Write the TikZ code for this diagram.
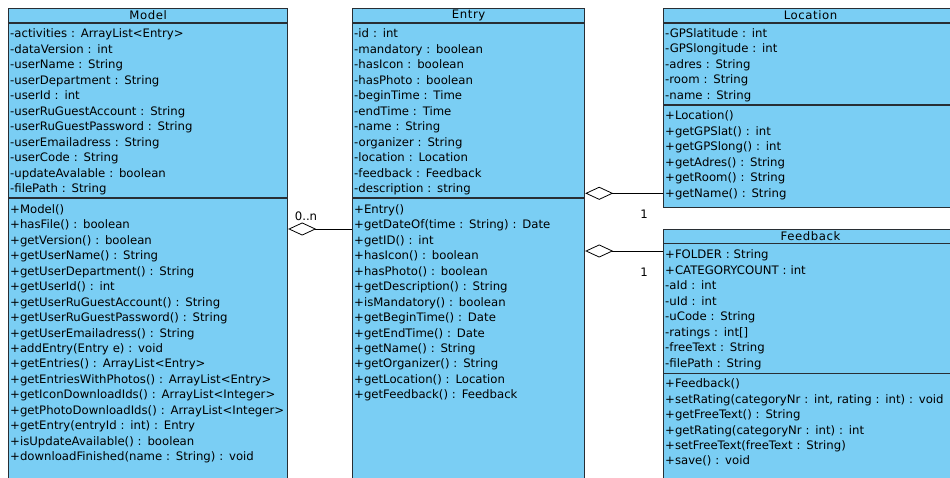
\documentclass[tikz,border=0pt]{standalone}
\usepackage{fontspec}
\setmainfont{DejaVu Sans}
\usetikzlibrary{arrows.meta, positioning, calc}

\definecolor{classblue}{RGB}{122,206,244}
\definecolor{classline}{RGB}{40,46,52}

\begin{document}
\begin{tikzpicture}[
    x=1pt, y=-1pt,
    classbox/.style={
        draw=classline,
        fill=classblue,
        line width=1.2pt,
        anchor=north west,
        inner sep=0pt,
    },
    classname/.style={
        font=\fontsize{11.7}{13}\selectfont\addfontfeatures{LetterSpace=5},
        inner sep=0pt,
    },
    members/.style={
        font=\fontsize{11.7}{15.45}\selectfont,
        anchor=base west,
        inner sep=0pt,
        text width=320pt,
        align=left,
    },
    divider/.style={
        draw=classline,
        line width=1.2pt,
    },
    aggregation/.style={
        {Diamond[open, length=28pt, width=13pt]}-,
        line width=0.8pt,
    },
    mult/.style={
        font=\fontsize{11.7}{13}\selectfont,
        inner sep=0pt,
    }
]
    \useasboundingbox (0,0) rectangle (950,478);
    \clip (0,0) rectangle (950,478);

    % Class boxes
    \node[classbox, minimum width=279pt, minimum height=520pt] (model) at (8,8) {};
    \node[classbox, minimum width=232pt, minimum height=520pt] (entry) at (352,8) {};
    \node[classbox, minimum width=294pt, minimum height=199pt] (location) at (663,8) {};
    \node[classbox, minimum width=294pt, minimum height=300pt] (feedback) at (663,229) {};

    % Compartment lines
    \draw[divider] ([yshift=-15pt]model.north west) -- ([yshift=-15pt]model.north east);
    \draw[divider] ([yshift=-190pt]model.north west) -- ([yshift=-190pt]model.north east);
    \draw[divider] ([yshift=-15pt]entry.north west) -- ([yshift=-15pt]entry.north east);
    \draw[divider] ([yshift=-190pt]entry.north west) -- ([yshift=-190pt]entry.north east);
    \draw[divider] ([yshift=-15pt]location.north west) -- ([yshift=-15pt]location.north east);
    \draw[divider] ([yshift=-97pt]location.north west) -- ([yshift=-97pt]location.north east);
    \draw[divider] ([yshift=-14.5pt]feedback.north west) -- ([yshift=-14.5pt]feedback.north east);
    \draw[divider] ([yshift=-144.5pt]feedback.north west) -- ([yshift=-144.5pt]feedback.north east);

    % Class names
    \node[classname] (model-name) at ($(model.north)+(0,7.5)$) {Model};
    \node[classname] (entry-name) at ($(entry.north)+(0,7.5)$) {Entry};
    \node[classname] (location-name) at ($(location.north)+(0,7.5)$) {Location};
    \node[classname] (feedback-name) at ($(feedback.north)+(0,7.5)$) {Feedback};

    % Model
    \node[members] (model-attr) at (10,38) {-activities : ArrayList<Entry>\\
        -dataVersion : int\\
        -userName : String\\
        -userDepartment : String\\
        -userId : int\\
        -userRuGuestAccount : String\\
        -userRuGuestPassword : String\\
        -userEmailadress : String\\
        -userCode : String\\
        -updateAvalable : boolean\\
        -filePath : String};
    \node[members] (model-ops) at (10,213.5) {+Model()\\
        +hasFile() : boolean\\
        +getVersion() : boolean\\
        +getUserName() : String\\
        +getUserDepartment() : String\\
        +getUserId() : int\\
        +getUserRuGuestAccount() : String\\
        +getUserRuGuestPassword() : String\\
        +getUserEmailadress() : String\\
        +addEntry(Entry e) : void\\
        +getEntries() : ArrayList<Entry>\\
        +getEntriesWithPhotos() : ArrayList<Entry>\\
        +getIconDownloadIds() : ArrayList<Integer>\\
        +getPhotoDownloadIds() : ArrayList<Integer>\\
        +getEntry(entryId : int) : Entry\\
        +isUpdateAvailable() : boolean\\
        +downloadFinished(name : String) : void};

    % Entry
    \node[members] (entry-attr) at (354,38) {-id : int\\
        -mandatory : boolean\\
        -hasIcon : boolean\\
        -hasPhoto : boolean\\
        -beginTime : Time\\
        -endTime : Time\\
        -name : String\\
        -organizer : String\\
        -location : Location\\
        -feedback : Feedback\\
        -description : string};
    \node[members] (entry-ops) at (354,213.5) {+Entry()\\
        +getDateOf(time : String) : Date\\
        +getID() : int\\
        +hasIcon() : boolean\\
        +hasPhoto() : boolean\\
        +getDescription() : String\\
        +isMandatory() : boolean\\
        +getBeginTime() : Date\\
        +getEndTime() : Date\\
        +getName() : String\\
        +getOrganizer() : String\\
        +getLocation() : Location\\
        +getFeedback() : Feedback};

    % Location
    \node[members] (location-attr) at (665,37.5) {-GPSlatitude : int\\
        -GPSlongitude : int\\
        -adres : String\\
        -room : String\\
        -name : String};
    \node[members] (location-ops) at (665,120) {+Location()\\
        +getGPSlat() : int\\
        +getGPSlong() : int\\
        +getAdres() : String\\
        +getRoom() : String\\
        +getName() : String};

    % Feedback
    \node[members] (feedback-attr) at (665,259) {+FOLDER : String\\
        +CATEGORYCOUNT : int\\
        -aId : int\\
        -uId : int\\
        -uCode : String\\
        -ratings : int[]\\
        -freeText : String\\
        -filePath : String};
    \node[members] (feedback-ops) at (665,387.7) {+Feedback()\\
        +setRating(categoryNr : int, rating : int) : void\\
        +getFreeText() : String\\
        +getRating(categoryNr : int) : int\\
        +setFreeText(freeText : String)\\
        +save() : void};

    % Associations
    \draw[aggregation] ([yshift=-221pt]model.north east) -- ([yshift=-221pt]entry.north west);
    \draw[aggregation] ([yshift=-185.3pt]entry.north east) -- ([yshift=-185.3pt]location.north west);
    \draw[aggregation] ([yshift=-243pt]entry.north east) -- ([yshift=-22pt]feedback.north west);

    % Multiplicities
    \node[mult] (mult-entries) at (306,216) {0..n};
    \node[mult] (mult-location) at (644,214) {1};
    \node[mult] (mult-feedback) at (644,272.3) {1};
\end{tikzpicture}
\end{document}
